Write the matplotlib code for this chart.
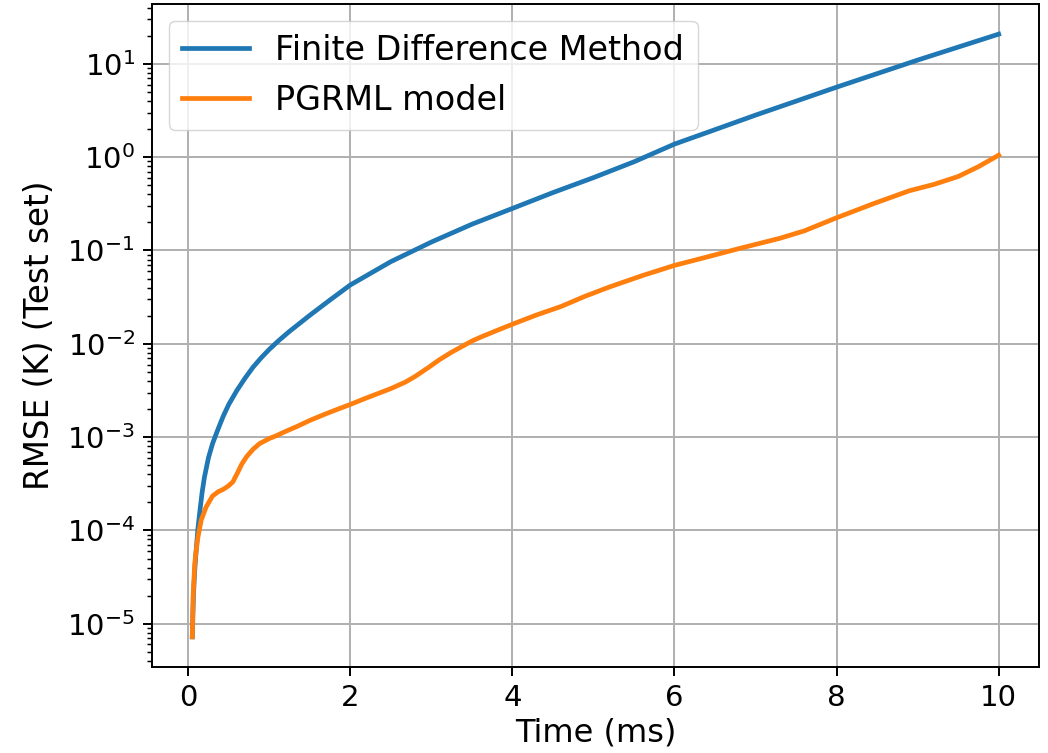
import matplotlib
matplotlib.use("Agg")
import matplotlib.pyplot as plt

# RMSE on the test set vs. simulated time
fdm_time = [0.05, 0.065, 0.08, 0.1, 0.12, 0.14, 0.17, 0.2, 0.25, 0.3, 0.36,
            0.43, 0.5, 0.6, 0.7, 0.8, 0.9, 1.0, 1.12, 1.25, 1.5, 1.75, 2.0,
            2.5, 3.0, 3.5, 4.0, 4.5, 5.0, 5.5, 6.0, 6.5, 7.0, 7.5, 8.0, 8.5,
            9.0, 9.5, 10.0]
fdm_rmse = [7.24e-6, 2.09e-5, 3.72e-5, 6.46e-5, 1.05e-4, 1.51e-4, 2.51e-4,
            3.72e-4, 6.03e-4, 8.51e-4, 1.17e-3, 1.66e-3, 2.24e-3, 3.16e-3,
            4.27e-3, 5.62e-3, 7.08e-3, 8.71e-3, 1.09e-2, 1.36e-2, 2.02e-2,
            2.95e-2, 4.27e-2, 7.59e-2, 0.123, 0.191, 0.282, 0.417, 0.603,
            0.891, 1.38, 1.97, 2.82, 3.98, 5.62, 7.85, 10.96, 15.1, 20.8]

pgrml_time = [0.05, 0.06, 0.08, 0.1, 0.12, 0.16, 0.22, 0.3, 0.37, 0.43, 0.5,
              0.55, 0.61, 0.66, 0.72, 0.8, 0.88, 1.0, 1.08, 1.2, 1.35, 1.5,
              1.7, 1.85, 2.0, 2.2, 2.35, 2.5, 2.68, 2.8, 2.97, 3.1, 3.25,
              3.375, 3.5, 3.6, 3.8, 4.0, 4.3, 4.6, 4.9, 5.2, 5.6, 6.0, 6.4,
              6.8, 7.3, 7.6, 8.0, 8.45, 8.9, 9.2, 9.5, 9.75, 10.0]
pgrml_rmse = [7.24e-6, 1.95e-5, 4.37e-5, 6.31e-5, 8.51e-5, 1.29e-4, 1.78e-4,
              2.34e-4, 2.60e-4, 2.75e-4, 3.02e-4, 3.31e-4, 4.17e-4, 5.13e-4,
              6.17e-4, 7.41e-4, 8.51e-4, 9.66e-4, 1.03e-3, 1.15e-3, 1.31e-3,
              1.51e-3, 1.78e-3, 2.00e-3, 2.24e-3, 2.63e-3, 2.95e-3, 3.31e-3,
              3.89e-3, 4.47e-3, 5.62e-3, 6.76e-3, 8.13e-3, 9.33e-3, 1.07e-2,
              1.17e-2, 1.38e-2, 1.62e-2, 2.04e-2, 2.51e-2, 3.24e-2, 4.07e-2,
              5.37e-2, 6.92e-2, 8.51e-2, 0.105, 0.135, 0.162, 0.224, 0.316,
              0.437, 0.51, 0.62, 0.79, 1.05]

k = 1.76  # scale for line widths / tick sizes
plt.rcParams.update({
    "font.family": "DejaVu Sans",
    "axes.linewidth": 0.8 * k,
    "grid.linewidth": 0.8 * k,
    "xtick.major.size": 3.5 * k, "ytick.major.size": 3.5 * k,
    "xtick.major.width": 0.8 * k, "ytick.major.width": 0.8 * k,
    "xtick.minor.size": 2 * k, "ytick.minor.size": 2 * k,
    "xtick.minor.width": 0.6 * k, "ytick.minor.width": 0.6 * k,
    "xtick.major.pad": 3.5 * k, "ytick.major.pad": 3.5 * k,
})

fig = plt.figure(figsize=(10.48, 7.53), dpi=100)
ax = fig.add_axes([0.145, 0.1142, 0.8464, 0.8805])

ax.plot(fdm_time, fdm_rmse, color="tab:blue", lw=3.4, label="Finite Difference Method")
ax.plot(pgrml_time, pgrml_rmse, color="tab:orange", lw=3.4, label="PGRML model")
ax.set_yscale("log")

ax.set_xlabel("Time (ms)", fontsize=23, labelpad=4)
ax.set_ylabel("RMSE (K) (Test set)", fontsize=23.5, labelpad=8)
ax.tick_params(axis="both", which="major", labelsize=21)
ax.grid(True)
ax.legend(loc="upper left", fontsize=24)

fig.savefig("out.png", dpi=100)
